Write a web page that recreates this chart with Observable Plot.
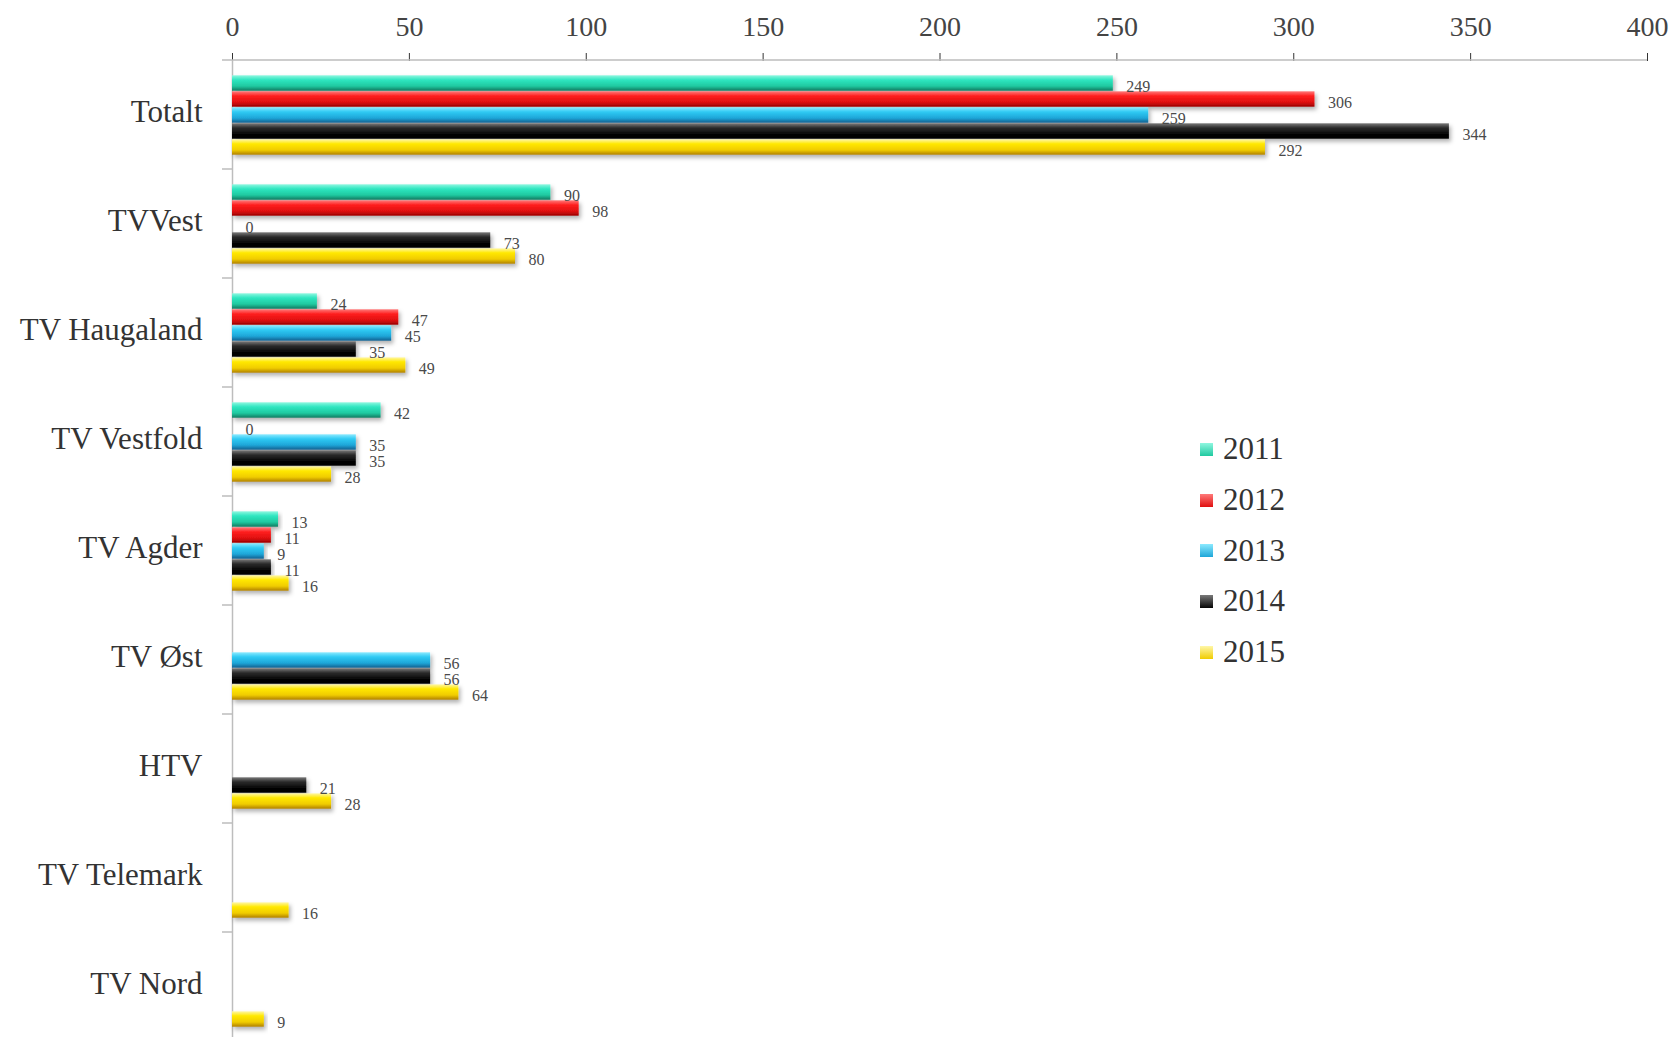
<!DOCTYPE html>
<html><head><meta charset="utf-8">
<script src="https://cdn.jsdelivr.net/npm/d3@7"></script>
<script src="https://cdn.jsdelivr.net/npm/@observablehq/plot@0.6"></script>
<style>
html,body{margin:0;padding:0;background:#fff;overflow:hidden;}
#wrap{position:relative;width:1674px;height:1037px;overflow:hidden;}
#wrap svg text{font-family:"Liberation Serif","Times New Roman",serif;}
g[aria-label="x-axis tick label"] text{font-size:28px;fill:#444;}
g[aria-label="x-axis tick"]{stroke:#b5b5b5;}
g[aria-label="bar"] rect{filter:url(#shadow);}
#legend{position:absolute;left:1200px;top:424px;font-family:"Liberation Serif","Times New Roman",serif;font-size:31px;color:#333;}
#legend .row{display:flex;align-items:center;height:50.7px;}
#legend .sw{width:13px;height:13px;margin-right:10px;}
</style></head>
<body><div id="wrap"><div id="legend"></div></div>
<script>
const categories = ["Totalt","TVVest","TV Haugaland","TV Vestfold","TV Agder","TV Øst","HTV","TV Telemark","TV Nord"];
const years = ["2011","2012","2013","2014","2015"];
const v2011 = [249, 90, 24, 42, 13, null, null, null, null];
const v2012 = [306, 98, 47, 0, 11, null, null, null, null];
const v2013 = [259, 0, 45, 35, 9, 56, null, null, null];
const v2014 = [344, 73, 35, 35, 11, 56, 21, null, null];
const v2015 = [292, 80, 49, 28, 16, 64, 28, 16, 9];
const xTicks = [0, 50, 100, 150, 200, 250, 300, 350, 400];
const gradStops = [
  ["#8ff7e0", "#2ee6c0", "#20c9a0", "#127a60"],
  ["#ff7a7a", "#ff2020", "#e01010", "#9a0000"],
  ["#8ceaff", "#2fcaf3", "#1ea6d8", "#145f90"],
  ["#7a7a7a", "#2a2a2a", "#050505", "#000000"],
  ["#fff7a8", "#ffe800", "#f0cc00", "#b08000"]
];

const series = [v2011, v2012, v2013, v2014, v2015];
const rows = [];
categories.forEach((c, i) => years.forEach((yr, j) => {
  const v = series[j][i];
  if (v != null) rows.push({category: c, year: yr, value: v});
}));

const chart = Plot.plot({
  width: 1674, height: 1042,
  marginLeft: 232, marginRight: 27, marginTop: 58, marginBottom: 0,
  style: {background: "transparent", color: "#333"},
  x: {domain: [0, 400], axis: "top", ticks: xTicks, tickSize: 8, tickPadding: 17, label: null},
  y: {domain: years, axis: null, paddingInner: 0, paddingOuter: 0.72},
  fy: {domain: categories, padding: 0, label: null},
  marks: [
    Plot.axisFy({anchor: "left", tickSize: 0, tickPadding: 30, label: null, dy: -3, fontSize: 31, fill: "#333"}),
    Plot.ruleX([0], {stroke: "#bdbdbd", strokeWidth: 1.5}),
    ...years.map((yr, j) => Plot.barX(rows.filter(d => d.year === yr), {
      x: "value", y: "year", fy: "category", fill: `url(#grad${yr})`, insetTop: 0.3, insetBottom: 0.3
    })),
    Plot.text(rows, {x: "value", y: "year", fy: "category", text: d => String(d.value),
      dx: 13, dy: 3, textAnchor: "start", fontSize: 16, fill: "#4a4a4a"})
  ]
});

const svg = d3.select(chart);
const defs = svg.insert("defs", ":first-child");
years.forEach((yr, j) => {
  const g = defs.append("linearGradient").attr("id", `grad${yr}`).attr("x1", 0).attr("y1", 0).attr("x2", 0).attr("y2", 1);
  const s = gradStops[j];
  [[0, s[0]], [0.3, s[1]], [0.7, s[2]], [1, s[3]]].forEach(([o, c]) => g.append("stop").attr("offset", o).attr("stop-color", c));
});
const f = defs.append("filter").attr("id", "shadow").attr("x", "-5%").attr("y", "-30%").attr("width", "115%").attr("height", "190%");
f.append("feDropShadow").attr("dx", 2).attr("dy", 3).attr("stdDeviation", 2).attr("flood-color", "#000").attr("flood-opacity", 0.3);

const xs = chart.scale("x"), fys = chart.scale("fy");
const x0 = xs.apply(0), x1 = xs.apply(400);
const top0 = fys.apply(categories[0]);
svg.append("line").attr("x1", x0).attr("x2", x1).attr("y1", top0).attr("y2", top0)
  .attr("stroke", "#bdbdbd").attr("stroke-width", 1.5);
categories.forEach(c => {
  const yy = fys.apply(c);
  svg.append("line").attr("x1", x0 - 10).attr("x2", x0).attr("y1", yy).attr("y2", yy)
    .attr("stroke", "#bdbdbd").attr("stroke-width", 1.5);
});

document.getElementById("wrap").prepend(chart);
chart.style.position = "absolute"; chart.style.left = "0"; chart.style.top = "0";

const legend = d3.select("#legend");
years.forEach((yr, j) => {
  const r = legend.append("div").attr("class", "row");
  r.append("div").attr("class", "sw").style("background", `linear-gradient(${gradStops[j][0]}, ${gradStops[j][2]})`);
  r.append("span").text(yr);
});
</script>
</body></html>
